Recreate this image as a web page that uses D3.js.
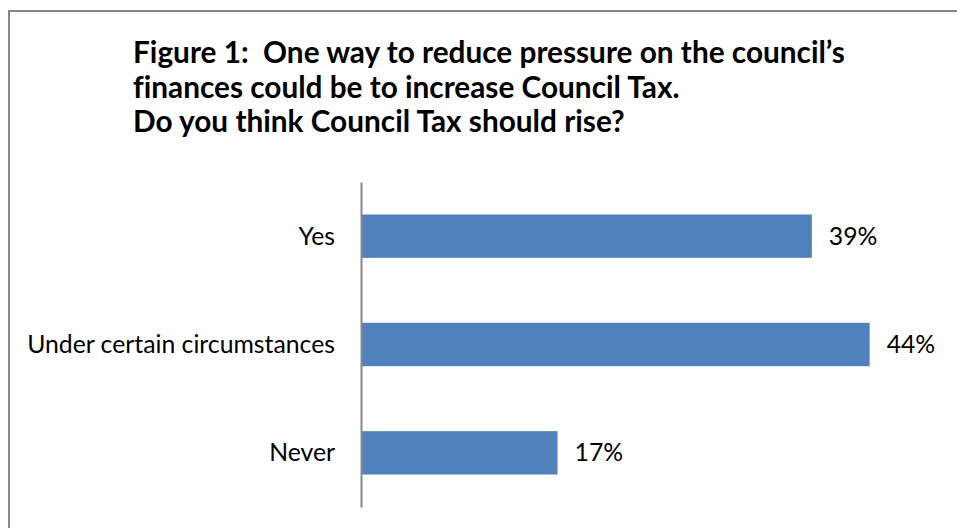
<!DOCTYPE html>
<html>
<head>
<meta charset="utf-8">
<script src="https://cdn.jsdelivr.net/npm/d3@7"></script>
<style>
  html, body { margin: 0; padding: 0; background: #fff; }
  svg { display: block; }
  text { font-family: Lato, "Open Sans", sans-serif; fill: #000; font-variant-ligatures: none; white-space: pre; }
</style>
</head>
<body>
<svg id="chart" width="957" height="528"></svg>
<script>
const titleLines = [
  "Figure 1:  One way to reduce pressure on the council\u2019s",
  "finances could be to increase Council Tax.",
  "Do you think Council Tax should rise?"
];
const categories = ["Yes", "Under certain circumstances", "Never"];
const values = [39, 44, 17];
const valueLabels = ["39%", "44%", "17%"];
const xMax = 50;

const svg = d3.select("#chart");
const W = 957, H = 528;

// outer border (extends beyond canvas at right/bottom)
svg.append("rect")
  .attr("x", 9).attr("y", 11)
  .attr("width", W + 20).attr("height", H + 20)
  .attr("fill", "#fff").attr("stroke", "#888").attr("stroke-width", 2);

// Title
const titleG = svg.append("g");
const tl = titleG.selectAll("text").data(titleLines).enter().append("text")
  .attr("x", 133)
  .attr("y", (d, i) => 63 + i * 34.5)
  .attr("font-weight", "bold")
  .attr("font-size", 26)
  .attr("xml:space", "preserve")
  .text(d => d);
// fit first line width to target
const w0 = tl.node().getComputedTextLength();
const titleSize = 26 * 712 / w0;
tl.attr("font-size", titleSize);

const x = d3.scaleLinear().domain([0, xMax]).range([361, 939]);
const y = d3.scaleBand().domain(categories).range([182, 507]).paddingInner(0.6).paddingOuter(0.3);

// Bars
svg.append("g").selectAll("rect").data(categories).enter().append("rect")
  .attr("x", x(0))
  .attr("y", d => y(d))
  .attr("width", (d, i) => x(values[i]) - x(0))
  .attr("height", y.bandwidth())
  .attr("fill", "#4F81BD");

// Category axis
const yAxis = d3.axisLeft(y).tickSize(0).tickPadding(26);
const ax = svg.append("g").attr("transform", `translate(${x(0)},0)`).call(yAxis);
ax.select(".domain").attr("stroke", "#888").attr("stroke-width", 2);
ax.selectAll("text").attr("font-size", 20).attr("font-family", "Lato, 'Open Sans', sans-serif").attr("fill", "#000").attr("dy", "0.34em");
const longest = ax.selectAll("text").filter(d => d === "Under certain circumstances").node();
const lw = longest.getComputedTextLength();
const labelSize = 20 * 308 / lw;
ax.selectAll("text").attr("font-size", labelSize);

// Value labels
svg.append("g").selectAll("text").data(categories).enter().append("text")
  .attr("x", (d, i) => x(values[i]) + 17)
  .attr("y", d => y(d) + y.bandwidth() / 2)
  .attr("dy", "0.34em")
  .attr("font-size", labelSize)
  .text((d, i) => valueLabels[i]);
</script>
</body>
</html>
